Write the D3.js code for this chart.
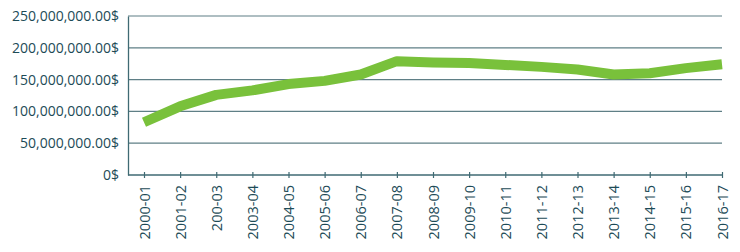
<!DOCTYPE html>
<html>
<head>
<meta charset="utf-8">
<script src="https://cdn.jsdelivr.net/npm/d3@7"></script>
<style>
  body { margin: 0; background: #fff; }
  text { font-family: "Open Sans", sans-serif; fill: #1d4b57; }
</style>
</head>
<body>
<div id="chart"></div>
<script>
// chart data
var years = ["2000-01", "2001-02", "200-03", "2003-04", "2004-05", "2005-06", "2006-07", "2007-08", "2008-09",
  "2009-10", "2010-11", "2011-12", "2012-13", "2013-14", "2014-15", "2015-16", "2016-17"];
var amounts = [83e6, 108e6, 126e6, 133e6, 143e6, 148e6, 158e6, 179e6, 177e6,
  176e6, 173e6, 170e6, 166e6, 158e6, 160e6, 168e6, 174e6];
var yTicks = [0, 50e6, 100e6, 150e6, 200e6, 250e6];

var svgWidth = 740;
var svgHeight = 252;

var svg = d3.select("#chart")
    .append("svg")
    .attr("width", svgWidth)
    .attr("height", svgHeight);

var axisLeft = 128, axisRight = 722;

var xScale = d3.scalePoint()
    .domain(years)
    .range([144, 722]);

var yScale = d3.scaleLinear()
    .domain([0, 250e6])
    .range([175, 16]);

var fmt = function(v) {
  return v === 0 ? "0$" : d3.format(",.2f")(v) + "$";
};

// gridlines
svg.append("g")
    .selectAll("line")
    .data(yTicks.filter(function(d) { return d > 0; }))
    .enter()
    .append("line")
    .attr("x1", axisLeft)
    .attr("x2", axisRight)
    .attr("y1", function(d) { return yScale(d); })
    .attr("y2", function(d) { return yScale(d); })
    .attr("stroke", "#5f7f86")
    .attr("stroke-width", 1.2);

// y axis
var leftAxis = d3.axisLeft(yScale)
    .tickValues(yTicks)
    .tickSize(0)
    .tickPadding(9)
    .tickFormat(fmt);

var yG = svg.append("g")
    .attr("transform", "translate(" + axisLeft + ",0)")
    .call(leftAxis);
yG.select(".domain").attr("stroke", "#3f6a73").attr("stroke-width", 1.3);
yG.selectAll("text").style("font-size", "14px");

// x axis
var bottomAxis = d3.axisBottom(xScale)
    .tickSize(3)
    .tickSizeOuter(0);

var xG = svg.append("g")
    .attr("transform", "translate(0," + yScale(0) + ")")
    .call(bottomAxis);
xG.select(".domain")
    .attr("d", "M" + axisLeft + ",0H" + axisRight)
    .attr("stroke", "#3f6a73")
    .attr("stroke-width", 1.3);
xG.selectAll(".tick line")
    .attr("y1", -3)
    .attr("y2", 3)
    .attr("stroke", "#3f6a73")
    .attr("stroke-width", 1.2);
xG.selectAll("text")
    .attr("transform", "rotate(-90)")
    .attr("x", -10)
    .attr("y", 0)
    .attr("dy", "0.35em")
    .style("text-anchor", "end")
    .style("font-size", "14.5px");

// line
var line = d3.line()
    .x(function(d, i) { return xScale(years[i]); })
    .y(function(d) { return yScale(d); });

svg.append("path")
    .datum(amounts)
    .attr("d", line)
    .attr("fill", "none")
    .attr("stroke", "#79c13b")
    .attr("stroke-width", 10)
    .attr("stroke-linejoin", "round");
</script>
</body>
</html>
